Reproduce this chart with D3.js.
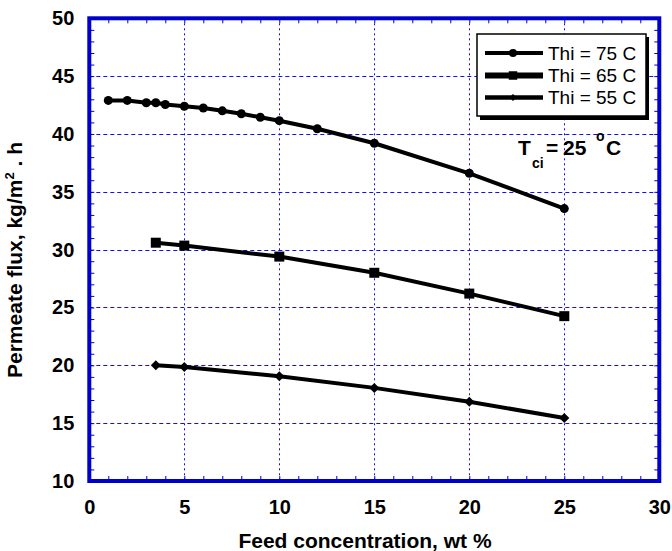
<!DOCTYPE html>
<html>
<head>
<meta charset="utf-8">
<script src="https://cdn.jsdelivr.net/npm/d3@7"></script>
<style>
  body { margin: 0; background: #fff; }
  svg { display: block; font-family: "Liberation Sans", Arial, sans-serif; }
</style>
</head>
<body>
<div id="chart"></div>
<script>
// feed concentration (wt %) and permeate flux for each hot inlet temperature
const conc75 = [1, 2, 3, 3.5, 4, 5, 6, 7, 8, 9, 10, 12, 15, 20, 25];
const flux75 = [42.9, 42.9, 42.7, 42.7, 42.55, 42.4, 42.25, 42.0, 41.75, 41.45, 41.15, 40.45, 39.2, 36.6, 33.55];
const conc65 = [3.5, 5, 10, 15, 20, 25];
const flux65 = [30.6, 30.35, 29.4, 28.0, 26.2, 24.25];
const conc55 = [3.5, 5, 10, 15, 20, 25];
const flux55 = [20.0, 19.85, 19.05, 18.05, 16.85, 15.45];

const seriesNames = ["Thi = 75 C", "Thi = 65 C", "Thi = 55 C"];
const xTicks = [0, 5, 10, 15, 20, 25, 30];
const yTicks = [10, 15, 20, 25, 30, 35, 40, 45, 50];

const W = 672, H = 551;
const blue = "#0000cc";
const gridBlue = "#1010ee";

const svg = d3.select("#chart").append("svg")
    .attr("width", W).attr("height", H);

const x = d3.scaleLinear().domain([0, 30]).range([89.3, 659.3]);
const y = d3.scaleLinear().domain([10, 50]).range([481, 18.3]);
const plotL = x(0), plotR = x(30), plotT = y(50), plotB = y(10);

// grid
svg.append("g")
    .selectAll("line")
    .data(yTicks.filter(v => v > 10 && v < 50))
    .join("line")
        .attr("x1", plotL).attr("x2", plotR)
        .attr("y1", d => Math.round(y(d)) + 0.5).attr("y2", d => Math.round(y(d)) + 0.5)
        .attr("stroke", gridBlue).attr("stroke-width", 1)
        .attr("stroke-dasharray", "4,3");

svg.append("g")
    .selectAll("line")
    .data(xTicks.filter(v => v > 0 && v < 30))
    .join("line")
        .attr("y1", plotT).attr("y2", plotB)
        .attr("x1", d => Math.round(x(d)) + 0.5).attr("x2", d => Math.round(x(d)) + 0.5)
        .attr("stroke", gridBlue).attr("stroke-width", 1)
        .attr("stroke-dasharray", "2,3");

// inner minor ticks on all four sides
const minorX = d3.range(0, 31);
const minorY = d3.range(10, 51);
function styleTicks(g) {
    g.select(".domain").remove();
    g.selectAll(".tick line").attr("stroke", blue).attr("stroke-width", 1);
}
svg.append("g").attr("transform", `translate(0,${plotB})`)
    .call(d3.axisBottom(x).tickValues(minorX).tickSize(-5).tickFormat(""))
    .call(styleTicks);
svg.append("g").attr("transform", `translate(0,${plotT})`)
    .call(d3.axisTop(x).tickValues(minorX).tickSize(-5).tickFormat(""))
    .call(styleTicks);
svg.append("g").attr("transform", `translate(${plotL},0)`)
    .call(d3.axisLeft(y).tickValues(minorY).tickSize(-5).tickFormat(""))
    .call(styleTicks);
svg.append("g").attr("transform", `translate(${plotR},0)`)
    .call(d3.axisRight(y).tickValues(minorY).tickSize(-5).tickFormat(""))
    .call(styleTicks);

// tick labels
const xAxis = svg.append("g").attr("transform", `translate(0,${plotB})`)
    .call(d3.axisBottom(x).tickValues(xTicks).tickSize(0).tickPadding(19));
const yAxis = svg.append("g").attr("transform", `translate(${plotL},0)`)
    .call(d3.axisLeft(y).tickValues(yTicks).tickSize(0).tickPadding(15));
[xAxis, yAxis].forEach(g => {
    g.select(".domain").remove();
    g.selectAll("text")
        .attr("font-family", "'Liberation Sans', Arial, sans-serif")
        .attr("font-size", 20).attr("font-weight", "bold").attr("fill", "#000");
});

// frame
svg.append("rect")
    .attr("x", plotL).attr("y", plotT)
    .attr("width", plotR - plotL).attr("height", plotB - plotT)
    .attr("fill", "none").attr("stroke", blue).attr("stroke-width", 4);

// series
const series = [
    { name: seriesNames[0], pts: conc75.map((c, i) => [c, flux75[i]]), marker: "circle" },
    { name: seriesNames[1], pts: conc65.map((c, i) => [c, flux65[i]]), marker: "square" },
    { name: seriesNames[2], pts: conc55.map((c, i) => [c, flux55[i]]), marker: "diamond" }
];

const line = d3.line().x(d => x(d[0])).y(d => y(d[1]));

function drawMarker(sel, kind, scale) {
    if (kind === "circle") {
        sel.append("circle").attr("r", 4.5 * scale).attr("fill", "#000");
    } else if (kind === "square") {
        sel.append("path").attr("d", d3.symbol(d3.symbolSquare, 100 * scale * scale)).attr("fill", "#000");
    } else {
        sel.append("path").attr("d", d3.symbol(d3.symbolSquare, 50 * scale * scale))
            .attr("transform", "rotate(45)").attr("fill", "#000");
    }
}

series.forEach(s => {
    svg.append("path")
        .datum(s.pts)
        .attr("d", line)
        .attr("fill", "none").attr("stroke", "#000").attr("stroke-width", 4)
        .attr("stroke-linejoin", "round");
    svg.append("g")
        .selectAll("g")
        .data(s.pts)
        .join("g")
            .attr("transform", d => `translate(${x(d[0])},${y(d[1])})`)
            .each(function () { drawMarker(d3.select(this), s.marker, 1); });
});

// legend
const lg = svg.append("g");
lg.append("rect").attr("x", 480).attr("y", 37).attr("width", 169).attr("height", 83).attr("fill", "#000");
lg.append("rect").attr("x", 477).attr("y", 34).attr("width", 169).attr("height", 82)
    .attr("fill", "#fff").attr("stroke", "#000").attr("stroke-width", 1.5);
const rowY = [53, 75.5, 97.5];
const legendWidths = [4, 6, 4.5];
const legendScale = [0.9, 0.85, 0.7];
series.forEach((s, i) => {
    const row = lg.append("g").attr("transform", `translate(0,${rowY[i]})`);
    row.append("line").attr("x1", 485).attr("x2", 543).attr("y1", 0).attr("y2", 0)
        .attr("stroke", "#000").attr("stroke-width", legendWidths[i]);
    drawMarker(row.append("g").attr("transform", "translate(513,0)"), s.marker, legendScale[i]);
    row.append("text").attr("x", 548).attr("y", 6.8)
        .attr("font-size", 19).attr("fill", "#000").text(s.name);
});

// annotation T_ci = 25 °C
const ann = svg.append("text").attr("y", 155).attr("font-weight", "bold").attr("fill", "#000");
ann.append("tspan").attr("x", 518).attr("font-size", 21).text("T");
ann.append("tspan").attr("x", 532).attr("y", 168).attr("font-size", 14).text("ci");
ann.append("tspan").attr("x", 546).attr("y", 155).attr("font-size", 21).text("=");
ann.append("tspan").attr("x", 563).attr("y", 155).attr("font-size", 21).text("25");
ann.append("tspan").attr("x", 596).attr("y", 141).attr("font-size", 14).text("o");
ann.append("tspan").attr("x", 606).attr("y", 155).attr("font-size", 21).text("C");

// axis titles
svg.append("text")
    .attr("x", 365).attr("y", 548)
    .attr("text-anchor", "middle")
    .attr("font-size", 21).attr("font-weight", "bold").attr("fill", "#000")
    .text("Feed concentration, wt %");

const yt = svg.append("text")
    .attr("transform", "translate(22,260) rotate(-90)")
    .attr("text-anchor", "middle")
    .attr("font-size", 21).attr("font-weight", "bold").attr("fill", "#000");
yt.append("tspan").text("Permeate flux, kg/m");
yt.append("tspan").attr("dy", -8).attr("font-size", 13).text("2");
yt.append("tspan").attr("dy", 8).text(" . h");
</script>
</body>
</html>
